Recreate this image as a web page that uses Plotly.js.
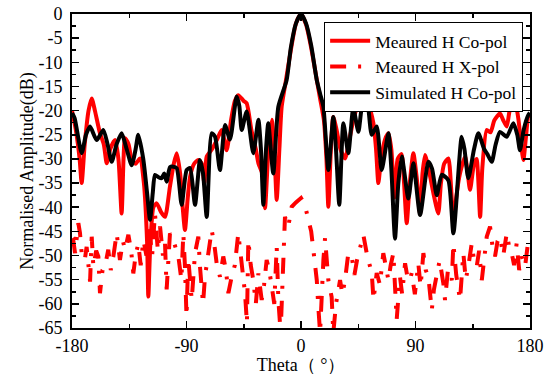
<!DOCTYPE html>
<html>
<head>
<meta charset="utf-8">
<script src="https://cdn.plot.ly/plotly-3.0.1.min.js"></script>
<style>html,body{margin:0;padding:0;background:#fff;}#chart{width:554px;height:375px;}</style>
</head>
<body>
<div id="chart"></div>
<script>
// Measured H Co-pol
const thetaCo = [-180,-177,-174,-172.4,-170,-167,-164.5,-162,-158,-155,-152.7,-150,-146.2,-143.5,-141,-139.5,-138.3,-135.5,-133.1,-130,-126.6,-123.5,-121,-120,-118.5,-116,-113.4,-110,-106.9,-103,-100,-97.7,-95,-93,-91.2,-89,-87.2,-84,-80.7,-78,-76,-74.1,-70,-66,-62.4,-58.4,-55,-52,-49.3,-45,-42.7,-39,-35.5,-33.5,-30.5,-28.3,-26,-23,-21,-19.1,-17,-15.2,-12,-8,-4,0,4,8,12,15,18,20,21.5,23.5,25.4,28,31,34.6,38,42,45,49,53,56.9,59,60.8,63,66,68.7,71,73.5,76,79,81,83.1,85.5,88.3,91,93.6,95.5,97.5,101,104,107.9,110,112.5,115.8,118,119.8,122,125,129,131,132.9,136,138,140.8,142.5,146,149,152,156.4,159,161.7,164,166.9,169,171,173,174.8,177,178.7,180];
const coPol = [-20,-24,-30,-35,-27,-20,-17.5,-20,-24.7,-27,-30.9,-28,-26.1,-30,-41.3,-30,-25.7,-27,-30.2,-31,-29.9,-35,-47,-58.5,-48,-40,-39.2,-41,-42,-35.7,-31,-28.8,-33,-40,-44.7,-38,-33.7,-31,-30.2,-31,-35,-29.5,-28,-26,-24,-28.2,-22,-18,-16.8,-18,-18.5,-24,-28,-30.9,-33,-40.2,-30,-21.9,-28,-38.5,-28,-19.2,-14,-7.5,-2,0,-2.2,-7,-13,-17.5,-22,-30,-39.9,-28,-21.3,-24,-28,-29.9,-26,-21,-19,-17.8,-19,-22.6,-28,-35,-30,-26,-24.7,-28,-38,-30,-29,-35,-43.3,-35,-28.8,-34,-41.3,-33,-29.2,-33,-37,-41.3,-35,-31,-29.9,-36,-44,-38,-33,-29.5,-33,-36.4,-31,-30,-42,-32,-24,-24.5,-22,-20.6,-22,-23.3,-20,-18.2,-19,-22,-27,-30.2,-25,-21.3,-21.5];

// Measured H X-pol
const thetaX = [-180,-179,-177.6,-175,-173.7,-172.4,-170,-168.5,-165.8,-164.5,-163.2,-161,-159.3,-158,-156,-154.1,-151.5,-149.5,-147.5,-144.9,-142.3,-140,-138.3,-135.7,-133.5,-131.8,-130,-127.9,-126,-123.9,-121.5,-119.5,-117,-114.8,-112.5,-110.8,-108.5,-106.9,-105.6,-103,-100.4,-97.7,-96.4,-94,-92.5,-91.2,-90,-88.6,-85.9,-83.3,-80.7,-79.4,-77,-75.5,-73,-70.2,-68,-66.3,-63.7,-61.1,-59,-57.1,-54.5,-52,-49.3,-46.6,-44,-42.5,-41.4,-39.5,-37.5,-35.5,-33.5,-30.9,-29,-27,-25,-23,-21,-19.1,-17.8,-16,-14,-12.6,-10,-7.3,-4,0,3,5.8,8,9.7,12.4,13.6,15,17.6,18.9,21.5,24.1,25.4,27.5,30.7,32.5,34.6,37.2,39.9,42,44,46.4,49,52,55.6,57,59.5,62,64.7,66.5,68.7,70.5,72.6,75.2,77.8,79.5,81.8,84,85.7,87,89.5,92.2,94,96.2,98,100.1,102.8,104.5,106.7,109,111.9,113.2,115.5,118.5,119.8,122,125,127.6,129.5,131.5,134.2,136,138.1,140,142.1,144,146,148.6,150.5,152.5,154.5,156.4,159,161.7,163.5,165.6,167.5,169.5,171.5,173.5,176.1,178.7,180];
const xPol = [-47,-46.8,-49.5,-43.3,-45.4,-49.5,-51,-48.2,-55.4,-46.1,-52.3,-49,-50.2,-57.8,-53,-52.3,-48.8,-53,-50.2,-45.4,-50.9,-47,-48.8,-45.7,-49,-53.7,-50,-47.5,-52,-46.8,-50,-44,-50,-41.3,-49,-44,-50,-47.5,-57,-45.4,-46.8,-48.8,-50.2,-55,-45.4,-52.3,-62.6,-50.6,-59.2,-49.5,-46.1,-52.3,-60,-54.4,-50,-44.7,-48,-51.6,-54.4,-50.2,-53,-57.8,-54.4,-52,-45.4,-50.9,-57.8,-64,-46.8,-52,-55.1,-60,-53.7,-59.2,-56,-50.9,-53,-56.4,-60,-48.2,-59.2,-66,-50,-42,-44,-39.9,-39,-38.1,-39.5,-42.6,-45,-48.8,-55.1,-60.6,-66,-50.9,-46.4,-55.1,-58.6,-66,-60,-55.1,-58,-55.1,-49.5,-50.2,-54,-51,-48.8,-45.7,-50,-53.6,-59.2,-53.6,-56,-49.5,-52,-55.1,-52,-49.5,-63.3,-54.4,-58,-51.6,-55,-55.1,-53.6,-58,-51.6,-56.4,-49.5,-53,-54.4,-61.3,-57,-54.4,-51,-55.8,-59.2,-53,-55.1,-47.5,-54,-59.2,-49.5,-55,-52.3,-47.5,-51,-52.3,-49,-55.1,-50,-46.1,-44,-48,-50.2,-47,-46.1,-50,-45.4,-48,-49.5,-52,-47.5,-53,-50.2,-52.3,-46.8,-46];

// Simulated H Co-pol
const thetaSim = [-180,-178,-172.4,-169,-165.8,-160.6,-155.4,-152,-148.8,-145,-141,-137,-133.1,-130,-127.9,-124,-121,-118.7,-116.5,-114.8,-112,-109.5,-107.5,-105.6,-103,-100.4,-97.7,-93.8,-89.9,-87.2,-83.3,-79.4,-77,-74.1,-70.2,-67.6,-63.7,-59.7,-55.8,-50.6,-48.5,-46.6,-42.7,-37.5,-33.5,-31.5,-29.6,-27.5,-25.7,-21.8,-17.8,-11.3,-8,-4,0,4,8,12.4,15,17.6,21.5,25.4,27.5,30.1,33.3,37.2,41.1,45.1,48,51.6,55.6,59.5,63.4,68.7,71,73.9,76.5,79.2,84.4,88.3,93.6,100.1,103,106.7,110.6,115.8,119.8,126.3,128.5,131.5,136,139.4,144,146.5,149.9,153,156.4,161.7,166.9,170,172.1,175,178.7,180];
const simCo = [-20.5,-21.5,-28.8,-25,-23.3,-26.1,-24,-27,-30.6,-27,-24.7,-28,-31.3,-28,-25,-30,-37,-42.6,-37,-33.3,-33.8,-34,-33,-34.7,-31.7,-31.6,-31.9,-39.5,-32.3,-31.9,-39.5,-30.2,-33,-42,-24.7,-25.4,-32.3,-23,-26,-17.1,-19,-24,-20.2,-28.8,-21.9,-28,-39.5,-28,-22.6,-33,-19.2,-13.7,-7,-2,0,-2,-6.5,-13.7,-16.5,-19.2,-32.3,-21.3,-28,-39.5,-22.6,-28.8,-19.5,-24.4,-19,-17.1,-25,-23.3,-32.3,-24.7,-32,-46.5,-35,-29.5,-38.2,-30.9,-41.6,-30.6,-32,-37.5,-33.3,-34.4,-45.4,-25.4,-28,-34,-28,-24.7,-28,-29,-30.6,-27,-24.4,-25.4,-22.6,-25,-28.2,-24,-20.9,-20.5];

const seriesNames = ['Meaured H Co-pol', 'Meaured H X-pol', 'Simulated H Co-pol'];
const xTickVals = [-180, -90, 0, 90, 180];
const xTickText = ['-180', '-90', '0', '90', '180'];
const yTickVals = [0,-5,-10,-15,-20,-25,-30,-35,-40,-45,-50,-55,-60,-65];
const yTickText = ['0','-5','-10','-15','-20','-25','-30','-35','-40','-45','-50','-55','-60','-65'];

const serif = 'Liberation Serif, Times New Roman, serif';

const traces = [
  {x: thetaCo, y: coPol, name: seriesNames[0], type: 'scatter', mode: 'lines',
   line: {color: '#ff0000', width: 4, shape: 'spline', smoothing: 0.6}},
  {x: thetaX, y: xPol, name: seriesNames[1], type: 'scatter', mode: 'lines',
   line: {color: '#ff0000', width: 4, dash: '16px,12px,3px,12px'}},
  {x: thetaSim, y: simCo, name: seriesNames[2], type: 'scatter', mode: 'lines',
   line: {color: '#000000', width: 4, shape: 'spline', smoothing: 0.6}}
];

const axisCommon = {
  showline: true, linecolor: '#000', linewidth: 2, mirror: 'allticks',
  ticks: 'inside', ticklen: 7, tickwidth: 1.5, tickcolor: '#000',
  showgrid: false, zeroline: false, automargin: false,
  tickfont: {family: serif, size: 18, color: '#000'}
};

const layout = {
  width: 554, height: 375,
  margin: {l: 72, r: 24, t: 14, b: 47},
  paper_bgcolor: '#fff', plot_bgcolor: '#fff',
  font: {family: serif, color: '#000'},
  showlegend: true,
  legend: {
    x: 0.985, y: 0.975, xanchor: 'right', yanchor: 'top',
    bgcolor: '#fff', bordercolor: '#000', borderwidth: 1,
    font: {family: serif, size: 17.5, color: '#000'},
    itemwidth: 40, tracegroupgap: 0
  },
  xaxis: Object.assign({}, axisCommon, {
    range: [-180, 180], tickmode: 'array', tickvals: xTickVals, ticktext: xTickText,
    ticklabelstandoff: 0,
    minor: {dtick: 45, tick0: 0, ticks: 'inside', ticklen: 4, tickcolor: '#000', tickwidth: 1.5},
    title: {text: 'Theta（ °）', font: {family: serif, size: 18, color: '#000'}, standoff: 0}
  }),
  yaxis: Object.assign({}, axisCommon, {
    range: [-65, 0], tickmode: 'array', tickvals: yTickVals, ticktext: yTickText,
    ticklabelstandoff: 4,
    minor: {dtick: 2.5, tick0: 0, ticks: 'inside', ticklen: 4, tickcolor: '#000', tickwidth: 1.5},
    title: {text: 'Normalised Amplitude(dB)', font: {family: serif, size: 18, color: '#000'}, standoff: 0}
  })
};

Plotly.newPlot('chart', traces, layout, {displayModeBar: false, staticPlot: true});
</script>
</body>
</html>
